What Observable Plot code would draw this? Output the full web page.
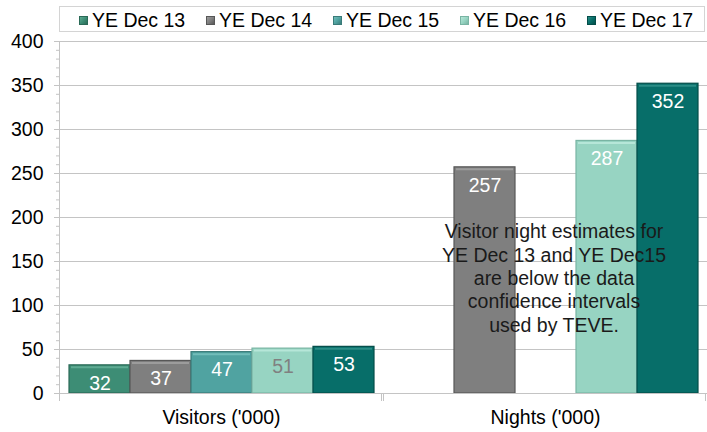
<!DOCTYPE html>
<html>
<head>
<meta charset="utf-8">
<script src="https://cdn.jsdelivr.net/npm/d3@7"></script>
<script src="https://cdn.jsdelivr.net/npm/@observablehq/plot@0.6"></script>
<style>
  body { margin: 0; background: #fff; font-family: "Liberation Sans", Arial, sans-serif; }
  #wrap { position: relative; width: 707px; height: 432px; }
  #legend { position: absolute; left: 59px; top: 6px; width: 646px; height: 26px; border: 1px solid #d4d4d4; background: #fff; box-sizing: border-box; }
  .item { position: absolute; top: 0; height: 26px; display: flex; align-items: center; font-size: 19.5px; color: #000; white-space: nowrap; }
  .sw { width: 9px; height: 9px; margin-right: 4px; box-sizing: border-box; }
</style>
</head>
<body>
<div id="wrap"><div id="legend"></div></div>
<script>
const categories = ["Visitors ('000)", "Nights ('000)"];
const series = ["YE Dec 13", "YE Dec 14", "YE Dec 15", "YE Dec 16", "YE Dec 17"];
const visitors = [32, 37, 47, 51, 53];
const nights = [null, 257, null, 287, 352];
const fills = ["#3d8d75", "#7f7f7f", "#50a3a1", "#97d4c2", "#076e69"];
const edges = ["#2b6a57", "#575757", "#3a7b79", "#79b4a3", "#044d49"];
const highlights = ["#5fab93", "#9c9c9c", "#72bdba", "#b6e6d8", "#2b8d86"];
const visitorLabelColors = ["#ffffff", "#ffffff", "#ffffff", "#808080", "#ffffff"];
const nightLabelColors = ["#ffffff", "#ffffff", "#ffffff", "#ffffff", "#ffffff"];
const yTicks = [0, 50, 100, 150, 200, 250, 300, 350, 400];
const yMinorTicks = d3.range(0, 401, 10);
const note = "Visitor night estimates for\nYE Dec 13 and YE Dec15\nare below the data\nconfidence intervals\nused by TEVE.";

const rows = [];
[[visitors, visitorLabelColors], [nights, nightLabelColors]].forEach(([vals, lc], ci) => {
  vals.forEach((v, si) => {
    if (v != null) rows.push({cat: categories[ci], series: series[si], value: v, i: si, labelColor: lc[si]});
  });
});
const noteData = [{cat: categories[1], series: series[2], text: note}];

const font = '"Liberation Sans", Arial, sans-serif';

const chart = Plot.plot({
  width: 707,
  height: 432,
  marginLeft: 58,
  marginRight: 0,
  marginTop: 41,
  marginBottom: 39,
  style: {fontFamily: font, fontSize: "19.5px", color: "#000", background: "transparent"},
  fx: {domain: categories, padding: 0, label: null},
  x: {domain: series, paddingInner: 0, paddingOuter: 0.155, axis: null},
  y: {domain: [0, 400], axis: null},
  color: {type: "identity"},
  marks: [
    Plot.ruleY(yTicks.slice(1), {stroke: "#c4c4c4", strokeWidth: 1}),
    Plot.barY(rows, {fx: "cat", x: "series", y: "value", fill: d => fills[d.i], stroke: d => edges[d.i], strokeWidth: 1.2}),
    Plot.tickY(rows, {fx: "cat", x: "series", y: "value", stroke: d => highlights[d.i], strokeWidth: 2, dy: 2, insetLeft: 2, insetRight: 2}),
    Plot.text(rows, {fx: "cat", x: "series", y: "value", text: d => String(d.value), fill: "labelColor", dy: 18, fontSize: 19.5}),
    Plot.ruleY([0], {stroke: "#c4c4c4", strokeWidth: 1}),
    Plot.frame({anchor: "left", stroke: "#c4c4c4", insetTop: 352, insetBottom: -7}),
    Plot.frame({anchor: "right", stroke: "#c4c4c4", insetTop: 352, insetBottom: -7, insetRight: 2}),
    Plot.frame({anchor: "left", stroke: "#c4c4c4", facetAnchor: "left"}),
    Plot.axisY({ticks: yMinorTicks, tickSize: 3, tickFormat: () => "", stroke: "#c4c4c4", label: null}),
    Plot.axisY({ticks: yTicks, tickSize: 5, tickPadding: 11, stroke: "#c4c4c4", fill: "#000", fontSize: 19.5, label: null}),
    Plot.axisFx({anchor: "bottom", tickSize: 0, tickPadding: 17, fontSize: 19.5, fill: "#000", label: null}),
    Plot.text(noteData, {fx: "cat", x: "series", frameAnchor: "top", dy: 180, dx: 8, text: "text", lineAnchor: "top", lineHeight: 1.2, fontSize: 19.5, fill: "#1a1a1a"})
  ]
});
document.getElementById("wrap").prepend(chart);

const legend = document.getElementById("legend");
const starts = [19, 146, 273, 400, 527];
series.forEach((s, i) => {
  const it = document.createElement("div");
  it.className = "item";
  it.style.left = starts[i] + "px";
  const sw = document.createElement("span");
  sw.className = "sw";
  sw.style.background = `linear-gradient(135deg, ${highlights[i]} 0%, ${fills[i]} 50%, ${edges[i]} 100%)`;
  sw.style.border = `1px solid ${edges[i]}`;
  it.appendChild(sw);
  const t = document.createElement("span");
  t.textContent = s;
  it.appendChild(t);
  legend.appendChild(it);
});
</script>
</body>
</html>
